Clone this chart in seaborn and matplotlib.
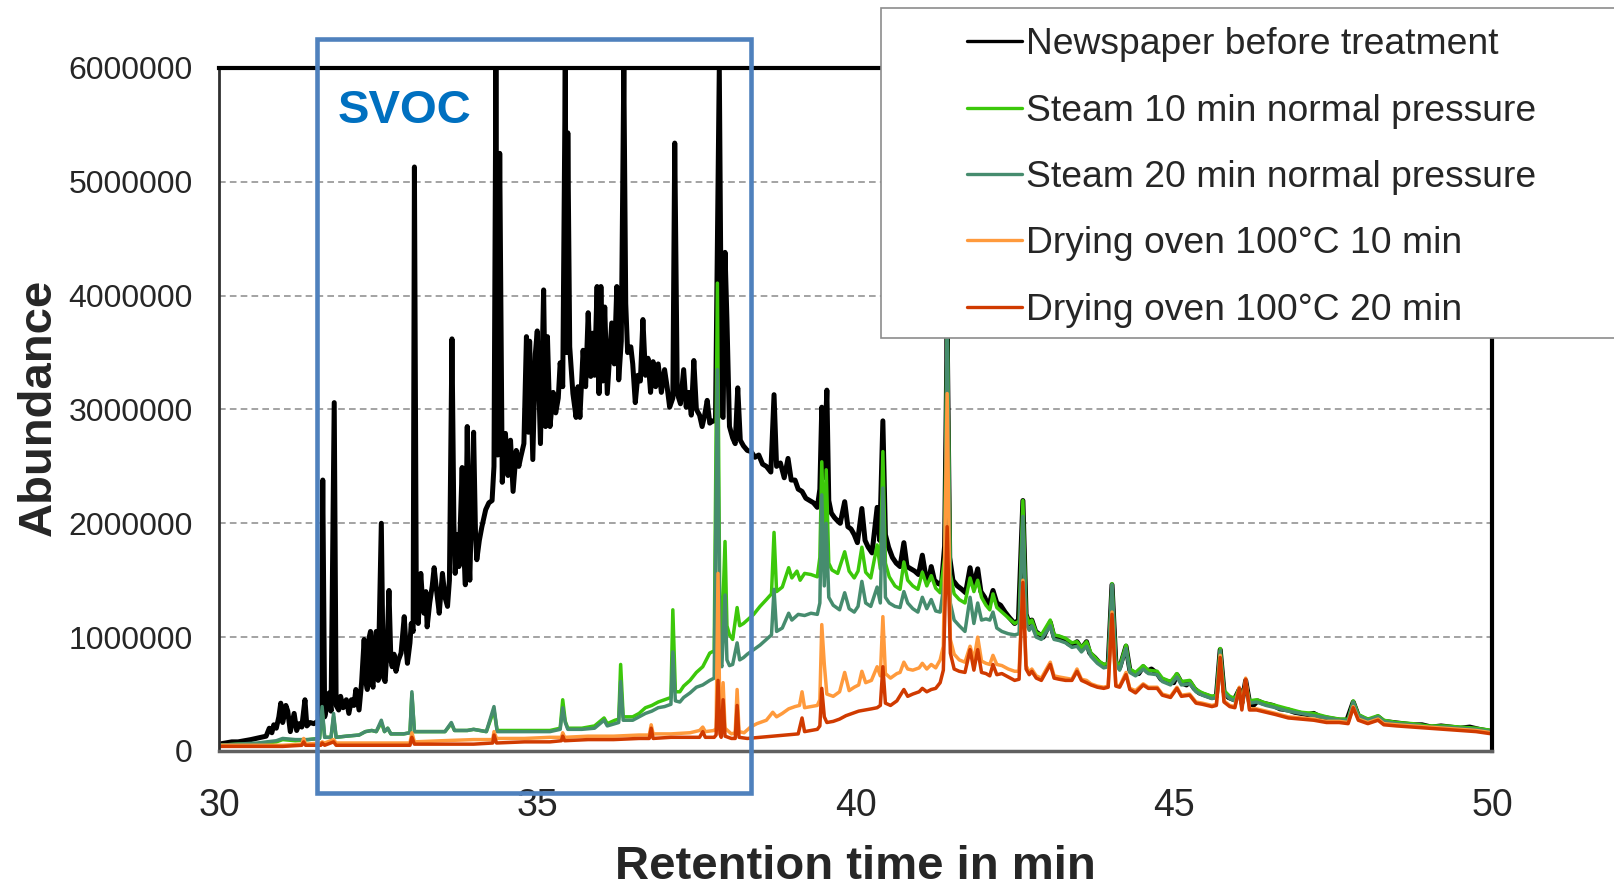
import numpy as np
import pandas as pd
import matplotlib
matplotlib.use("Agg")
import matplotlib.pyplot as plt
from matplotlib.lines import Line2D
from matplotlib.patches import Rectangle
import seaborn as sns

# chromatogram traces: (retention time in min, abundance in millions)
newspaper = [
    (30.00, 0.06), (30.10, 0.07), (30.20, 0.08), (30.30, 0.08), (30.40, 0.09), (30.50, 0.10),
    (30.58, 0.11), (30.66, 0.12), (30.74, 0.13), (30.79, 0.20), (30.83, 0.16), (30.86, 0.23),
    (30.90, 0.20), (30.94, 0.30), (30.97, 0.42), (31.00, 0.25), (31.02, 0.30), (31.05, 0.40),
    (31.08, 0.35), (31.12, 0.17), (31.15, 0.25), (31.18, 0.33), (31.22, 0.18), (31.26, 0.24),
    (31.30, 0.21), (31.35, 0.45), (31.38, 0.22), (31.43, 0.25), (31.49, 0.24), (31.55, 0.26),
    (31.60, 0.30), (31.63, 2.38), (31.66, 0.30), (31.70, 0.40), (31.73, 0.51), (31.76, 0.35),
    (31.81, 3.06), (31.84, 0.40), (31.88, 0.36), (31.91, 0.48), (31.95, 0.38), (32.00, 0.45),
    (32.04, 0.33), (32.08, 0.45), (32.12, 0.40), (32.15, 0.54), (32.20, 0.36), (32.24, 0.60),
    (32.28, 0.98), (32.31, 0.60), (32.33, 0.54), (32.36, 1.00), (32.38, 1.05), (32.40, 0.60),
    (32.42, 0.56), (32.45, 0.95), (32.47, 1.05), (32.50, 0.62), (32.55, 2.00), (32.58, 0.65),
    (32.61, 0.61), (32.64, 0.90), (32.67, 1.41), (32.70, 0.80), (32.72, 0.74), (32.75, 0.85),
    (32.78, 0.70), (32.82, 0.80), (32.86, 0.86), (32.91, 1.18), (32.94, 0.90), (32.96, 0.77),
    (33.00, 0.95), (33.02, 1.12), (33.05, 1.05), (33.07, 5.13), (33.10, 1.30), (33.13, 1.12),
    (33.17, 1.56), (33.20, 1.30), (33.22, 1.21), (33.25, 1.40), (33.27, 1.09), (33.31, 1.30),
    (33.35, 1.45), (33.38, 1.61), (33.42, 1.40), (33.46, 1.21), (33.51, 1.56), (33.55, 1.35),
    (33.59, 1.27), (33.62, 1.50), (33.66, 3.62), (33.69, 2.00), (33.71, 1.56), (33.74, 1.90),
    (33.77, 1.62), (33.82, 2.49), (33.85, 1.70), (33.87, 1.46), (33.90, 2.85), (33.92, 1.80),
    (33.94, 1.50), (33.97, 2.20), (34.00, 2.80), (34.03, 1.90), (34.05, 1.68), (34.09, 1.85),
    (34.13, 1.97), (34.19, 2.12), (34.24, 2.18), (34.29, 2.20), (34.32, 2.50), (34.35, 6.00),
    (34.38, 2.60), (34.41, 5.25), (34.45, 2.36), (34.50, 2.79), (34.54, 2.42), (34.58, 2.73),
    (34.62, 2.28), (34.67, 2.64), (34.71, 2.50), (34.74, 2.58), (34.79, 2.70), (34.83, 3.64),
    (34.86, 2.80), (34.88, 3.60), (34.93, 2.56), (34.97, 3.49), (35.00, 3.69), (35.05, 2.70),
    (35.10, 4.05), (35.13, 2.85), (35.16, 3.64), (35.20, 2.85), (35.25, 3.15), (35.29, 2.97),
    (35.33, 3.10), (35.36, 3.41), (35.40, 3.20), (35.44, 6.00), (35.46, 3.50), (35.48, 5.43),
    (35.51, 3.55), (35.56, 3.14), (35.61, 2.93), (35.64, 3.20), (35.67, 2.93), (35.72, 3.52),
    (35.76, 3.20), (35.80, 3.85), (35.84, 3.29), (35.87, 3.67), (35.90, 3.30), (35.94, 4.08),
    (35.97, 3.14), (36.00, 4.08), (36.03, 3.25), (36.06, 3.90), (36.10, 3.14), (36.14, 3.50),
    (36.17, 3.76), (36.21, 3.40), (36.25, 4.08), (36.28, 3.26), (36.32, 3.60), (36.36, 6.00),
    (36.39, 3.93), (36.42, 3.50), (36.47, 3.55), (36.50, 3.40), (36.54, 3.06), (36.58, 3.30),
    (36.62, 3.25), (36.66, 3.79), (36.70, 3.30), (36.74, 3.45), (36.78, 3.15), (36.82, 3.42),
    (36.86, 3.20), (36.90, 3.40), (36.95, 3.15), (37.00, 3.35), (37.04, 3.20), (37.08, 3.02),
    (37.13, 3.10), (37.16, 5.34), (37.20, 3.14), (37.25, 3.05), (37.30, 3.35), (37.34, 3.02),
    (37.38, 3.15), (37.42, 2.95), (37.46, 3.43), (37.50, 3.00), (37.55, 2.95), (37.59, 2.85),
    (37.63, 2.95), (37.67, 3.08), (37.71, 2.88), (37.76, 2.90), (37.80, 2.90), (37.86, 6.00),
    (37.90, 2.95), (37.92, 2.93), (37.95, 4.38), (37.98, 3.79), (38.02, 2.85), (38.07, 2.75),
    (38.11, 2.70), (38.15, 3.19), (38.19, 2.73), (38.24, 2.68), (38.30, 2.64), (38.36, 2.63),
    (38.42, 2.58), (38.48, 2.60), (38.54, 2.52), (38.60, 2.50), (38.67, 2.45), (38.72, 3.13),
    (38.76, 2.50), (38.82, 2.53), (38.88, 2.40), (38.94, 2.57), (38.99, 2.38), (39.05, 2.38),
    (39.10, 2.30), (39.16, 2.28), (39.22, 2.22), (39.28, 2.20), (39.34, 2.18), (39.40, 2.14),
    (39.44, 2.30), (39.47, 3.02), (39.50, 2.40), (39.55, 3.17), (39.58, 2.20), (39.62, 2.09),
    (39.67, 2.05), (39.72, 2.02), (39.76, 2.00), (39.83, 2.19), (39.88, 1.97), (39.93, 1.95),
    (39.98, 1.90), (40.03, 1.83), (40.10, 2.13), (40.15, 1.85), (40.20, 1.79), (40.26, 1.74),
    (40.34, 2.14), (40.38, 1.85), (40.43, 2.90), (40.47, 1.90), (40.52, 1.79), (40.58, 1.70),
    (40.64, 1.65), (40.70, 1.62), (40.76, 1.83), (40.81, 1.62), (40.87, 1.60), (40.93, 1.58),
    (40.99, 1.55), (41.05, 1.72), (41.10, 1.55), (41.15, 1.50), (41.19, 1.62), (41.24, 1.50),
    (41.30, 1.47), (41.35, 1.46), (41.40, 1.80), (41.44, 3.70), (41.48, 1.70), (41.53, 1.50),
    (41.60, 1.45), (41.67, 1.42), (41.73, 1.39), (41.80, 1.61), (41.85, 1.45), (41.92, 1.60),
    (41.97, 1.40), (42.03, 1.35), (42.09, 1.27), (42.16, 1.41), (42.22, 1.30), (42.28, 1.28),
    (42.35, 1.22), (42.42, 1.17), (42.50, 1.12), (42.56, 1.15), (42.63, 2.20), (42.68, 1.20),
    (42.73, 1.12), (42.77, 1.15), (42.83, 1.05), (42.90, 1.02), (42.95, 1.00), (43.06, 1.13),
    (43.12, 1.00), (43.20, 1.00), (43.28, 0.98), (43.35, 0.94), (43.42, 0.93), (43.48, 0.96),
    (43.55, 0.90), (43.63, 0.96), (43.68, 0.86), (43.76, 0.82), (43.84, 0.77), (43.92, 0.75),
    (43.97, 0.76), (44.03, 1.46), (44.09, 0.78), (44.15, 0.73), (44.25, 0.92), (44.31, 0.71),
    (44.38, 0.68), (44.45, 0.68), (44.52, 0.74), (44.58, 0.70), (44.65, 0.72), (44.74, 0.68),
    (44.80, 0.63), (44.90, 0.61), (45.00, 0.60), (45.05, 0.67), (45.12, 0.60), (45.20, 0.58),
    (45.25, 0.61), (45.32, 0.55), (45.40, 0.51), (45.50, 0.49), (45.60, 0.47), (45.67, 0.48),
    (45.73, 0.89), (45.79, 0.52), (45.86, 0.47), (45.95, 0.45), (46.03, 0.54), (46.07, 0.42),
    (46.13, 0.62), (46.19, 0.43), (46.25, 0.40), (46.32, 0.44), (46.40, 0.42), (46.48, 0.41),
    (46.56, 0.40), (46.67, 0.37), (46.80, 0.36), (46.90, 0.34), (47.00, 0.33), (47.10, 0.32),
    (47.20, 0.33), (47.30, 0.30), (47.40, 0.29), (47.50, 0.28), (47.62, 0.27), (47.72, 0.27),
    (47.82, 0.43), (47.90, 0.31), (48.00, 0.28), (48.10, 0.27), (48.21, 0.30), (48.30, 0.26),
    (48.45, 0.25), (48.60, 0.24), (48.75, 0.23), (48.90, 0.23), (49.05, 0.21), (49.20, 0.22),
    (49.35, 0.21), (49.50, 0.20), (49.65, 0.21), (49.80, 0.19), (50.00, 0.17),
]

steam10 = [
    (30.00, 0.05), (30.30, 0.06), (30.60, 0.06), (30.90, 0.08), (31.00, 0.10), (31.20, 0.09),
    (31.40, 0.10), (31.58, 0.11), (31.62, 0.35), (31.66, 0.12), (31.76, 0.12), (31.80, 0.30),
    (31.84, 0.12), (32.00, 0.13), (32.20, 0.14), (32.30, 0.17), (32.40, 0.18), (32.47, 0.17),
    (32.55, 0.25), (32.60, 0.17), (32.65, 0.20), (32.70, 0.15), (32.90, 0.15), (33.00, 0.16),
    (33.03, 0.50), (33.07, 0.17), (33.30, 0.17), (33.55, 0.17), (33.65, 0.24), (33.70, 0.18),
    (33.90, 0.18), (34.00, 0.19), (34.20, 0.17), (34.32, 0.36), (34.37, 0.18), (34.60, 0.18),
    (34.80, 0.18), (35.00, 0.18), (35.20, 0.18), (35.36, 0.20), (35.40, 0.45), (35.44, 0.26),
    (35.48, 0.20), (35.70, 0.20), (35.90, 0.22), (36.05, 0.29), (36.10, 0.24), (36.22, 0.27),
    (36.28, 0.28), (36.31, 0.76), (36.35, 0.30), (36.50, 0.30), (36.60, 0.33), (36.70, 0.38),
    (36.80, 0.40), (36.90, 0.43), (37.00, 0.45), (37.10, 0.47), (37.13, 1.24), (37.17, 0.52),
    (37.24, 0.52), (37.30, 0.57), (37.40, 0.62), (37.50, 0.69), (37.60, 0.74), (37.71, 0.86),
    (37.78, 0.88), (37.83, 4.11), (37.87, 1.10), (37.90, 1.00), (37.95, 1.84), (37.98, 1.10),
    (38.02, 1.02), (38.07, 0.98), (38.14, 1.26), (38.18, 1.10), (38.24, 1.12), (38.30, 1.15),
    (38.40, 1.20), (38.50, 1.27), (38.60, 1.33), (38.68, 1.38), (38.72, 1.92), (38.76, 1.40),
    (38.85, 1.44), (38.95, 1.61), (39.00, 1.52), (39.08, 1.58), (39.13, 1.50), (39.20, 1.56),
    (39.30, 1.55), (39.40, 1.53), (39.44, 1.70), (39.47, 2.54), (39.51, 1.80), (39.54, 2.47),
    (39.58, 1.65), (39.63, 1.59), (39.72, 1.56), (39.83, 1.75), (39.90, 1.58), (39.98, 1.52),
    (40.04, 1.58), (40.10, 1.79), (40.16, 1.57), (40.24, 1.52), (40.34, 1.81), (40.39, 1.60),
    (40.43, 2.63), (40.47, 1.65), (40.53, 1.53), (40.62, 1.45), (40.70, 1.42), (40.76, 1.66),
    (40.82, 1.50), (40.90, 1.45), (40.98, 1.42), (41.05, 1.57), (41.12, 1.45), (41.19, 1.54),
    (41.26, 1.43), (41.33, 1.39), (41.40, 1.70), (41.44, 3.80), (41.49, 1.55), (41.55, 1.38),
    (41.63, 1.33), (41.72, 1.30), (41.80, 1.52), (41.86, 1.40), (41.92, 1.50), (41.98, 1.35),
    (42.05, 1.28), (42.11, 1.24), (42.16, 1.38), (42.22, 1.26), (42.30, 1.22), (42.40, 1.17),
    (42.50, 1.12), (42.57, 1.14), (42.63, 2.20), (42.68, 1.20), (42.73, 1.12), (42.77, 1.15),
    (42.84, 1.04), (42.92, 1.02), (43.06, 1.15), (43.12, 1.02), (43.20, 1.01), (43.30, 0.99),
    (43.40, 0.95), (43.48, 0.96), (43.55, 0.91), (43.63, 0.96), (43.70, 0.86), (43.80, 0.80),
    (43.90, 0.76), (43.97, 0.77), (44.03, 1.47), (44.09, 0.79), (44.15, 0.74), (44.25, 0.93),
    (44.31, 0.72), (44.40, 0.69), (44.52, 0.75), (44.60, 0.71), (44.74, 0.70), (44.82, 0.64),
    (44.95, 0.61), (45.05, 0.68), (45.12, 0.61), (45.25, 0.62), (45.35, 0.54), (45.45, 0.51),
    (45.60, 0.48), (45.67, 0.49), (45.73, 0.90), (45.79, 0.53), (45.88, 0.48), (45.96, 0.46),
    (46.03, 0.55), (46.07, 0.43), (46.13, 0.60), (46.19, 0.44), (46.30, 0.45), (46.45, 0.42),
    (46.60, 0.40), (46.80, 0.37), (47.00, 0.34), (47.20, 0.33), (47.40, 0.30), (47.60, 0.28),
    (47.74, 0.28), (47.82, 0.44), (47.90, 0.32), (48.05, 0.28), (48.21, 0.31), (48.30, 0.27),
    (48.50, 0.25), (48.75, 0.24), (49.00, 0.22), (49.25, 0.22), (49.50, 0.21), (49.75, 0.20),
    (50.00, 0.18),
]

steam20 = [
    (30.00, 0.05), (30.30, 0.06), (30.60, 0.07), (30.90, 0.09), (31.00, 0.11), (31.20, 0.10),
    (31.40, 0.10), (31.58, 0.11), (31.62, 0.39), (31.66, 0.12), (31.76, 0.12), (31.80, 0.33),
    (31.84, 0.12), (32.00, 0.13), (32.20, 0.14), (32.30, 0.17), (32.40, 0.18), (32.47, 0.17),
    (32.55, 0.27), (32.60, 0.17), (32.65, 0.20), (32.70, 0.15), (32.90, 0.15), (33.00, 0.16),
    (33.03, 0.52), (33.07, 0.17), (33.30, 0.17), (33.55, 0.17), (33.65, 0.25), (33.70, 0.18),
    (33.90, 0.18), (34.00, 0.19), (34.20, 0.17), (34.32, 0.39), (34.37, 0.17), (34.60, 0.17),
    (34.80, 0.17), (35.00, 0.17), (35.20, 0.17), (35.36, 0.19), (35.40, 0.38), (35.44, 0.25),
    (35.48, 0.19), (35.70, 0.19), (35.90, 0.20), (36.05, 0.27), (36.10, 0.22), (36.22, 0.24),
    (36.28, 0.25), (36.31, 0.61), (36.35, 0.27), (36.50, 0.27), (36.60, 0.30), (36.70, 0.33),
    (36.80, 0.35), (36.90, 0.38), (37.00, 0.39), (37.10, 0.41), (37.13, 0.87), (37.17, 0.44),
    (37.24, 0.43), (37.30, 0.47), (37.40, 0.51), (37.50, 0.56), (37.60, 0.58), (37.71, 0.62),
    (37.78, 0.64), (37.83, 3.35), (37.87, 0.80), (37.90, 0.74), (37.95, 1.37), (37.98, 0.80),
    (38.02, 0.75), (38.07, 0.76), (38.14, 0.95), (38.18, 0.80), (38.24, 0.82), (38.30, 0.85),
    (38.40, 0.89), (38.50, 0.93), (38.60, 0.98), (38.68, 1.02), (38.72, 1.42), (38.76, 1.05),
    (38.85, 1.08), (38.95, 1.21), (39.00, 1.15), (39.10, 1.20), (39.20, 1.19), (39.30, 1.21),
    (39.40, 1.20), (39.44, 1.30), (39.47, 2.25), (39.51, 1.45), (39.54, 2.00), (39.58, 1.35),
    (39.65, 1.28), (39.75, 1.24), (39.83, 1.39), (39.90, 1.25), (39.98, 1.22), (40.04, 1.27),
    (40.10, 1.49), (40.16, 1.30), (40.24, 1.27), (40.34, 1.44), (40.39, 1.30), (40.43, 2.31),
    (40.47, 1.35), (40.53, 1.30), (40.62, 1.27), (40.70, 1.26), (40.76, 1.40), (40.82, 1.30),
    (40.90, 1.25), (40.98, 1.22), (41.05, 1.35), (41.12, 1.25), (41.19, 1.33), (41.26, 1.23),
    (41.33, 1.22), (41.40, 1.50), (41.44, 3.80), (41.49, 1.30), (41.55, 1.15), (41.63, 1.10),
    (41.72, 1.05), (41.80, 1.35), (41.86, 1.12), (41.92, 1.30), (41.98, 1.15), (42.05, 1.16),
    (42.11, 1.15), (42.16, 1.22), (42.22, 1.08), (42.30, 1.05), (42.40, 1.03), (42.50, 1.02),
    (42.57, 1.03), (42.63, 2.06), (42.68, 1.12), (42.73, 1.06), (42.77, 1.10), (42.84, 1.00),
    (42.92, 0.98), (43.06, 1.10), (43.12, 0.98), (43.20, 0.97), (43.30, 0.95), (43.40, 0.91),
    (43.48, 0.92), (43.55, 0.87), (43.63, 0.92), (43.70, 0.83), (43.80, 0.77), (43.90, 0.73),
    (43.97, 0.74), (44.03, 1.46), (44.09, 0.76), (44.15, 0.71), (44.25, 0.90), (44.31, 0.69),
    (44.40, 0.66), (44.52, 0.72), (44.60, 0.68), (44.74, 0.67), (44.82, 0.61), (44.95, 0.58),
    (45.05, 0.65), (45.12, 0.58), (45.25, 0.59), (45.35, 0.52), (45.45, 0.49), (45.60, 0.46),
    (45.67, 0.47), (45.73, 0.88), (45.79, 0.51), (45.88, 0.46), (45.96, 0.44), (46.03, 0.53),
    (46.07, 0.41), (46.13, 0.60), (46.19, 0.42), (46.30, 0.43), (46.45, 0.40), (46.60, 0.38),
    (46.80, 0.35), (47.00, 0.33), (47.20, 0.31), (47.40, 0.29), (47.60, 0.27), (47.74, 0.27),
    (47.82, 0.43), (47.90, 0.31), (48.05, 0.27), (48.21, 0.30), (48.30, 0.26), (48.50, 0.24),
    (48.75, 0.23), (49.00, 0.21), (49.25, 0.21), (49.50, 0.20), (49.75, 0.19), (50.00, 0.17),
]

oven10 = [
    (30.00, 0.05), (30.50, 0.05), (31.00, 0.05), (31.30, 0.06), (31.33, 0.11), (31.36, 0.06),
    (31.60, 0.07), (31.62, 0.08), (31.66, 0.07), (31.80, 0.10), (31.84, 0.07), (32.20, 0.07),
    (32.60, 0.07), (33.00, 0.07), (33.03, 0.16), (33.07, 0.08), (33.50, 0.09), (34.00, 0.10),
    (34.30, 0.10), (34.32, 0.17), (34.36, 0.11), (34.80, 0.11), (35.20, 0.12), (35.38, 0.12),
    (35.40, 0.16), (35.43, 0.12), (35.80, 0.13), (36.20, 0.13), (36.60, 0.14), (36.76, 0.14),
    (36.79, 0.23), (36.82, 0.15), (37.10, 0.15), (37.40, 0.16), (37.55, 0.18), (37.60, 0.21),
    (37.64, 0.17), (37.78, 0.18), (37.81, 0.20), (37.84, 1.56), (37.87, 0.22), (37.89, 0.18),
    (37.92, 0.60), (37.95, 0.20), (38.05, 0.15), (38.11, 0.16), (38.14, 0.54), (38.17, 0.17),
    (38.25, 0.16), (38.35, 0.21), (38.45, 0.24), (38.60, 0.27), (38.70, 0.34), (38.76, 0.30),
    (38.85, 0.33), (38.95, 0.37), (39.05, 0.39), (39.12, 0.40), (39.16, 0.52), (39.20, 0.38),
    (39.30, 0.39), (39.40, 0.40), (39.44, 0.45), (39.47, 1.11), (39.51, 0.76), (39.55, 0.50),
    (39.65, 0.48), (39.75, 0.52), (39.83, 0.69), (39.90, 0.53), (39.98, 0.56), (40.05, 0.58),
    (40.10, 0.70), (40.16, 0.60), (40.25, 0.62), (40.34, 0.74), (40.39, 0.66), (40.43, 1.18),
    (40.47, 0.68), (40.55, 0.64), (40.65, 0.68), (40.70, 0.69), (40.76, 0.78), (40.82, 0.72),
    (40.90, 0.71), (41.00, 0.73), (41.05, 0.77), (41.12, 0.72), (41.19, 0.76), (41.26, 0.73),
    (41.33, 0.80), (41.38, 0.92), (41.44, 3.14), (41.49, 0.98), (41.55, 0.85), (41.63, 0.80),
    (41.72, 0.78), (41.80, 0.92), (41.86, 0.80), (41.92, 1.00), (41.98, 0.79), (42.05, 0.77),
    (42.11, 0.76), (42.16, 0.84), (42.22, 0.76), (42.30, 0.75), (42.40, 0.72), (42.50, 0.70),
    (42.57, 0.70), (42.63, 1.50), (42.68, 0.75), (42.73, 0.69), (42.77, 0.72), (42.84, 0.66),
    (42.92, 0.64), (43.06, 0.78), (43.12, 0.66), (43.20, 0.65), (43.30, 0.64), (43.40, 0.63),
    (43.48, 0.72), (43.55, 0.63), (43.63, 0.62), (43.70, 0.59), (43.80, 0.57), (43.90, 0.56),
    (43.97, 0.57), (44.03, 1.22), (44.09, 0.58), (44.15, 0.57), (44.25, 0.69), (44.31, 0.55),
    (44.40, 0.53), (44.52, 0.59), (44.60, 0.56), (44.74, 0.56), (44.82, 0.50), (44.95, 0.48),
    (45.05, 0.56), (45.12, 0.49), (45.25, 0.50), (45.35, 0.43), (45.45, 0.42), (45.60, 0.40),
    (45.67, 0.41), (45.73, 0.84), (45.79, 0.44), (45.88, 0.40), (45.96, 0.39), (46.03, 0.56),
    (46.07, 0.37), (46.13, 0.64), (46.19, 0.37), (46.30, 0.37), (46.45, 0.35), (46.60, 0.33),
    (46.80, 0.30), (47.00, 0.29), (47.20, 0.28), (47.40, 0.26), (47.60, 0.26), (47.74, 0.25),
    (47.82, 0.39), (47.90, 0.28), (48.05, 0.25), (48.21, 0.28), (48.30, 0.24), (48.50, 0.23),
    (48.75, 0.22), (49.00, 0.21), (49.25, 0.20), (49.50, 0.19), (49.75, 0.18), (50.00, 0.16),
]

oven20 = [
    (30.00, 0.04), (30.50, 0.04), (31.00, 0.04), (31.30, 0.05), (31.33, 0.08), (31.36, 0.05),
    (31.60, 0.05), (31.62, 0.07), (31.66, 0.05), (31.80, 0.08), (31.84, 0.05), (32.50, 0.05),
    (33.00, 0.05), (33.03, 0.12), (33.07, 0.06), (33.50, 0.06), (34.00, 0.06), (34.30, 0.07),
    (34.32, 0.14), (34.36, 0.07), (34.80, 0.08), (35.20, 0.08), (35.38, 0.09), (35.40, 0.13),
    (35.43, 0.09), (35.80, 0.10), (36.20, 0.10), (36.60, 0.11), (36.76, 0.11), (36.79, 0.20),
    (36.82, 0.11), (37.10, 0.12), (37.40, 0.12), (37.55, 0.12), (37.60, 0.17), (37.64, 0.12),
    (37.78, 0.12), (37.81, 0.14), (37.84, 0.62), (37.87, 0.15), (37.89, 0.12), (37.92, 0.45),
    (37.95, 0.13), (38.05, 0.11), (38.11, 0.11), (38.14, 0.40), (38.17, 0.12), (38.30, 0.11),
    (38.50, 0.12), (38.70, 0.13), (38.90, 0.14), (39.10, 0.15), (39.16, 0.29), (39.20, 0.17),
    (39.30, 0.18), (39.40, 0.19), (39.44, 0.22), (39.47, 0.55), (39.51, 0.30), (39.55, 0.25),
    (39.65, 0.26), (39.75, 0.28), (39.85, 0.31), (39.95, 0.33), (40.05, 0.35), (40.15, 0.36),
    (40.25, 0.37), (40.34, 0.38), (40.39, 0.40), (40.43, 0.74), (40.47, 0.42), (40.55, 0.40),
    (40.65, 0.44), (40.76, 0.54), (40.82, 0.48), (40.90, 0.50), (41.00, 0.52), (41.05, 0.55),
    (41.12, 0.52), (41.19, 0.54), (41.26, 0.55), (41.33, 0.60), (41.38, 0.71), (41.44, 1.97),
    (41.49, 0.86), (41.55, 0.72), (41.63, 0.70), (41.72, 0.69), (41.80, 0.89), (41.86, 0.71),
    (41.92, 0.89), (41.98, 0.69), (42.05, 0.68), (42.11, 0.66), (42.16, 0.76), (42.22, 0.67),
    (42.30, 0.68), (42.40, 0.65), (42.50, 0.62), (42.57, 0.63), (42.63, 1.48), (42.68, 0.72),
    (42.73, 0.67), (42.77, 0.70), (42.84, 0.64), (42.92, 0.62), (43.06, 0.76), (43.12, 0.64),
    (43.20, 0.63), (43.30, 0.62), (43.40, 0.62), (43.48, 0.70), (43.55, 0.62), (43.63, 0.60),
    (43.70, 0.58), (43.80, 0.56), (43.90, 0.55), (43.97, 0.56), (44.03, 1.20), (44.09, 0.57),
    (44.15, 0.56), (44.25, 0.67), (44.31, 0.54), (44.40, 0.51), (44.52, 0.58), (44.60, 0.55),
    (44.74, 0.55), (44.82, 0.49), (44.95, 0.47), (45.05, 0.55), (45.12, 0.48), (45.25, 0.49),
    (45.35, 0.42), (45.45, 0.41), (45.60, 0.39), (45.67, 0.40), (45.73, 0.82), (45.79, 0.43),
    (45.88, 0.39), (45.96, 0.38), (46.03, 0.55), (46.07, 0.36), (46.13, 0.63), (46.19, 0.36),
    (46.30, 0.36), (46.45, 0.34), (46.60, 0.32), (46.80, 0.29), (47.00, 0.28), (47.20, 0.27),
    (47.40, 0.25), (47.60, 0.25), (47.74, 0.24), (47.82, 0.38), (47.90, 0.27), (48.05, 0.24),
    (48.21, 0.27), (48.30, 0.23), (48.50, 0.22), (48.75, 0.21), (49.00, 0.20), (49.25, 0.19),
    (49.50, 0.18), (49.75, 0.17), (50.00, 0.15),
]

labels = [
    "Newspaper before treatment",
    "Steam 10 min normal pressure",
    "Steam 20 min normal pressure",
    "Drying oven 100°C 10 min",
    "Drying oven 100°C 20 min",
]
colors = ["#000000", "#3CC80A", "#468C6E", "#FF9A3C", "#D03A00"]
widths = [3.6, 2.5, 2.5, 2.5, 2.5]
x_ticks = [30, 35, 40, 45, 50]
y_ticks = [0, 1000000, 2000000, 3000000, 4000000, 5000000, 6000000]

sns.set_style("white")
plt.rcParams["font.family"] = ["Liberation Sans", "DejaVu Sans"]
plt.rcParams["lines.scale_dashes"] = False

frames = []
for name, trace in zip(labels, [newspaper, steam10, steam20, oven10, oven20]):
    d = pd.DataFrame(trace, columns=["rt", "abund"])
    d["abund"] = d["abund"] * 1e6
    d["sample"] = name
    frames.append(d)
df = pd.concat(frames, ignore_index=True)

fig = plt.figure(figsize=(16.14, 8.86), dpi=100)
ax = fig.add_axes([0.1357, 0.1524, 0.7887, 0.7709])

for name, c, lw in zip(labels, colors, widths):
    sns.lineplot(data=df[df["sample"] == name], x="rt", y="abund", color=c,
                 linewidth=lw, sort=False, estimator=None, ax=ax, legend=False)

ax.set_xlim(30, 50)
ax.set_ylim(0, 6000000)
ax.set_xticks(x_ticks)
ax.set_yticks(y_ticks)
ax.set_yticklabels([str(v) for v in y_ticks])
ax.set_xlabel("")
ax.set_ylabel("")
ax.yaxis.grid(True, color="#8a8a8a", linewidth=1.1, linestyle=(0, (4.8, 3.0)))
ax.xaxis.grid(False)
ax.tick_params(axis="x", direction="in", length=7, width=1.2, color="#8a8a8a",
               labelsize=27, pad=27)
ax.tick_params(axis="y", length=0, labelsize=23, pad=19)

for side, col, lw in [("top", "#000000", 3.0), ("right", "#000000", 3.0),
                      ("left", "#303030", 2.0), ("bottom", "#606060", 2.5)]:
    ax.spines[side].set_visible(True)
    ax.spines[side].set_color(col)
    ax.spines[side].set_linewidth(lw)

# SVOC region box
ax.add_patch(Rectangle((31.54, -369000), 6.82, 6624000, fill=False,
                       edgecolor="#4F81BD", linewidth=3.3, clip_on=False, zorder=6))
ax.text(31.87, 5620000, "SVOC", color="#0070C0", fontsize=34, fontweight="bold",
        ha="left", va="center", zorder=7)

fig.text(0.024, 0.540, "Abundance", rotation=90, fontsize=34, fontweight="bold",
         ha="center", va="center")
fig.text(0.530, 0.008, "Retention time in min", fontsize=34, fontweight="bold",
         ha="center", va="baseline")

# legend box running off the right edge
fig.add_artist(Rectangle((881 / 1614, 1 - 338 / 886), 0.5, 330 / 886,
                         transform=fig.transFigure, facecolor="white",
                         edgecolor="#8c8c8c", linewidth=1.2, zorder=1))
handles = [Line2D([0], [0], color=c, linewidth=2.4) for c in colors]
fig.legend(handles, labels, loc="upper left", bbox_to_anchor=(0.599, 0.969),
           bbox_transform=fig.transFigure, frameon=False, fontsize=26.8,
           handlelength=1.48, handletextpad=0.11, labelspacing=0.84,
           borderpad=0, borderaxespad=0)

fig.savefig("out.png", dpi=100)
